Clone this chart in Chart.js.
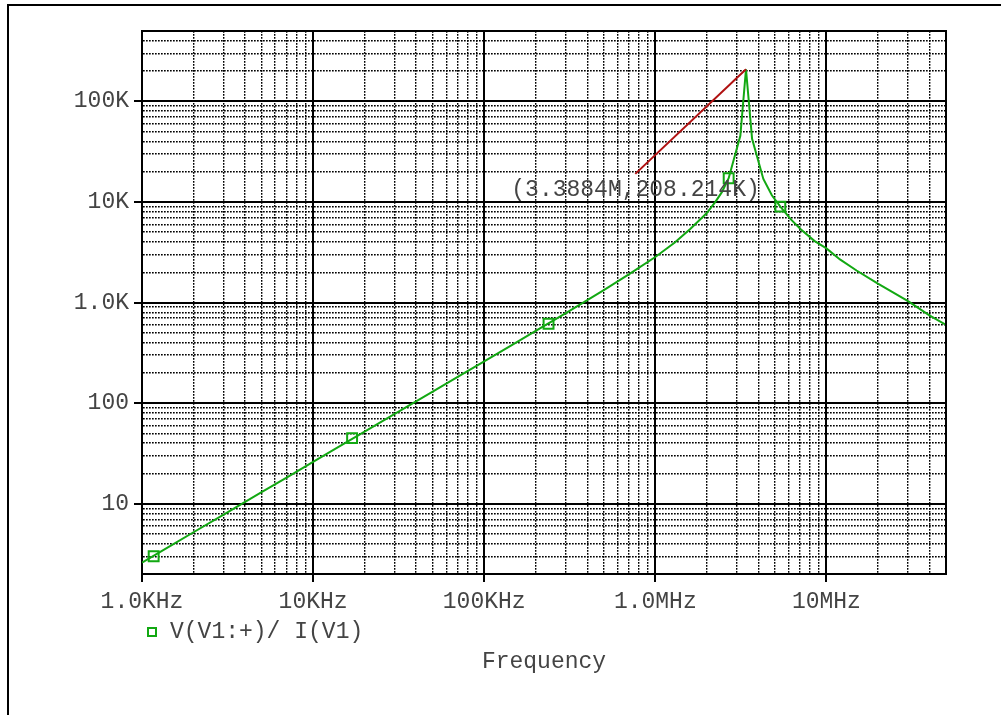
<!DOCTYPE html>
<html>
<head>
<meta charset="utf-8">
<script src="https://cdn.jsdelivr.net/npm/chart.js@4.4.0/dist/chart.umd.min.js"></script>
<style>
  html, body { margin: 0; padding: 0; background: #fff; }
</style>
</head>
<body>
<canvas id="chart-impedance" width="1001" height="715"></canvas>
<script>
// impedance |V/I|
var freqHz = [1e3, 1.5e3, 2e3, 3e3, 5e3, 7e3, 1e4, 1.5e4, 2e4, 3e4, 5e4, 7e4,
  1e5, 1.5e5, 2e5, 3e5, 5e5, 7e5, 1e6, 1.3e6, 1.6e6, 2e6, 2.244e6, 2.45e6,
  2.684e6, 3.14e6, 3.3884e6, 3.678e6, 4.28e6, 4.8e6, 5.38e6, 6.2e6, 7.05e6,
  8.5e6, 1e7, 1.2e7, 1.5e7, 2e7, 3e7, 4e7, 5e7];
var impedance = [2.6, 3.9, 5.2, 7.8, 13.0, 18.2, 26.0, 39.0, 52.0, 78.0, 130, 182,
  260, 391, 522, 786, 1329, 1901, 2830, 3940, 5380, 7750, 10000, 12500,
  17200, 45400, 208214, 42400, 16900, 11650, 8980, 6700, 5380,
  4100, 3450, 2680, 2080, 1540, 1030, 745, 600];

// symbol markers on the trace
var markerFreq = [1.17e3, 1.69e4, 2.377e5, 2.684e6, 5.38e6];
var markerImp = [3.0, 44.9, 614, 17200, 8980];

var xMajorTicks = [1e3, 1e4, 1e5, 1e6, 1e7];
var xTickLabels = ["1.0KHz", "10KHz", "100KHz", "1.0MHz", "10MHz"];
var yMajorTicks = [10, 100, 1e3, 1e4, 1e5];
var yTickLabels = ["10", "100", "1.0K", "10K", "100K"];

var seriesLabel = "V(V1:+)/ I(V1)";
var cursorPoint = [3.3884e6, 208214];
var cursorLineStart = [7.64e5, 1.9e4];
var cursorTextAt = [1.44e5, 1.32e4];
var cursorLabel = "(3.3884M,208.214K)";

var FONT = { family: "'Courier New', 'Liberation Mono', monospace", size: 23 };
var TEXT = "#444";
var GREEN = "#12a812";

function logTicks(min, max) {
  var out = [];
  for (var e = Math.floor(Math.log10(min)); Math.pow(10, e) <= max; e++) {
    for (var m = 1; m < 10; m++) {
      var v = m * Math.pow(10, e);
      if (v >= min && v <= max) out.push(v);
    }
  }
  return out;
}

function gridStyle(majors) {
  var isMajor = function (ctx) {
    return ctx.tick && majors.indexOf(ctx.tick.value) >= 0;
  };
  return {
    grid: {
      color: "#000",
      lineWidth: function (ctx) { return isMajor(ctx) ? 2 : 1.4; },
      drawTicks: true,
      tickLength: 8,
      tickWidth: 2,
      tickColor: function (ctx) { return isMajor(ctx) ? "#000" : "rgba(0,0,0,0)"; },
    },
    border: {
      display: true,
      color: "#000",
      width: 2,
      dash: function (ctx) { return ctx.tick && !isMajor(ctx) ? [1.7, 1.3] : []; },
    },
  };
}

var xGrid = gridStyle(xMajorTicks);
var yGrid = gridStyle(yMajorTicks);

var frame = {
  id: "frame",
  beforeDraw: function (chart) {
    var c = chart.ctx;
    c.save();
    c.fillStyle = "#fff";
    c.fillRect(0, 0, chart.width, chart.height);
    c.strokeStyle = "#000";
    c.lineWidth = 2;
    c.beginPath();
    c.moveTo(8, chart.height);
    c.lineTo(8, 5);
    c.lineTo(chart.width, 5);
    c.stroke();
    c.restore();
  },
  afterDraw: function (chart) {
    var c = chart.ctx, a = chart.chartArea;
    var xs = chart.scales.x, ys = chart.scales.y;
    c.save();
    // top and right edges of the plot box
    c.strokeStyle = "#000";
    c.lineWidth = 2;
    c.beginPath();
    c.moveTo(a.left, a.top);
    c.lineTo(a.right, a.top);
    c.lineTo(a.right, a.bottom);
    c.stroke();

    // cursor line and readout
    c.strokeStyle = "#b01010";
    c.lineWidth = 2;
    c.beginPath();
    c.moveTo(xs.getPixelForValue(cursorLineStart[0]), ys.getPixelForValue(cursorLineStart[1]));
    c.lineTo(xs.getPixelForValue(cursorPoint[0]), ys.getPixelForValue(cursorPoint[1]));
    c.stroke();
    c.font = FONT.size + "px " + FONT.family;
    c.fillStyle = TEXT;
    c.textBaseline = "middle";
    c.textAlign = "left";
    c.fillText(cursorLabel, xs.getPixelForValue(cursorTextAt[0]), ys.getPixelForValue(cursorTextAt[1]));

    // legend
    c.strokeStyle = GREEN;
    c.lineWidth = 2;
    c.strokeRect(148, 628, 8, 8);
    c.fillText(seriesLabel, 170, 632);
    c.restore();
  },
};

var ctx = document.getElementById("chart-impedance").getContext("2d");

new Chart(ctx, {
  type: "line",
  data: {
    datasets: [
      {
        label: seriesLabel,
        data: freqHz.map(function (f, i) { return { x: f, y: impedance[i] }; }),
        borderColor: GREEN,
        borderWidth: 2,
        pointRadius: 0,
        tension: 0,
        fill: false,
      },
      {
        label: "markers",
        data: markerFreq.map(function (f, i) { return { x: f, y: markerImp[i] }; }),
        showLine: false,
        pointStyle: "rect",
        pointRadius: 7,
        borderColor: GREEN,
        borderWidth: 2,
        backgroundColor: "rgba(0,0,0,0)",
      },
    ],
  },
  options: {
    responsive: false,
    animation: false,
    layout: { padding: { left: 0, top: 31, right: 55, bottom: 0 } },
    plugins: {
      legend: { display: false },
      tooltip: { enabled: false },
    },
    scales: {
      x: {
        type: "logarithmic",
        min: 1e3,
        max: 5e7,
        afterBuildTicks: function (s) {
          s.ticks = logTicks(1e3, 5e7).map(function (v) { return { value: v }; });
        },
        afterFit: function (s) { s.height = 141; },
        grid: xGrid.grid,
        border: xGrid.border,
        ticks: {
          autoSkip: false,
          maxRotation: 0,
          padding: 6,
          color: TEXT,
          font: FONT,
          callback: function (value) {
            var i = xMajorTicks.indexOf(value);
            return i >= 0 ? xTickLabels[i] : "";
          },
        },
        title: {
          display: true,
          text: "Frequency",
          color: TEXT,
          font: FONT,
          padding: { top: 0, bottom: 39 },
        },
      },
      y: {
        type: "logarithmic",
        min: 2,
        max: 5e5,
        afterBuildTicks: function (s) {
          s.ticks = logTicks(2, 5e5).map(function (v) { return { value: v }; });
        },
        afterFit: function (s) { s.width = 142; },
        grid: yGrid.grid,
        border: yGrid.border,
        ticks: {
          autoSkip: false,
          padding: 5,
          color: TEXT,
          font: FONT,
          callback: function (value) {
            var i = yMajorTicks.indexOf(value);
            return i >= 0 ? yTickLabels[i] : "";
          },
        },
      },
    },
  },
  plugins: [frame],
});
</script>
</body>
</html>
